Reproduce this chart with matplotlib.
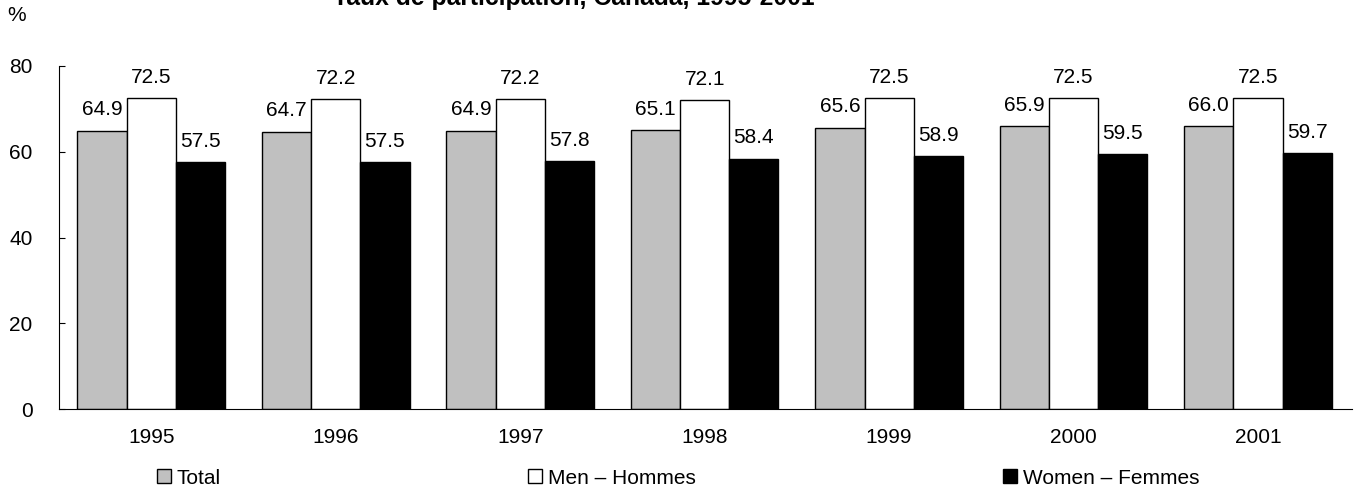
import numpy as np
import matplotlib.pyplot as plt

years = ['1995', '1996', '1997', '1998', '1999', '2000', '2001']
total = [64.9, 64.7, 64.9, 65.1, 65.6, 65.9, 66.0]
men = [72.5, 72.2, 72.2, 72.1, 72.5, 72.5, 72.5]
women = [57.5, 57.5, 57.8, 58.4, 58.9, 59.5, 59.7]
series_labels = ['Total', 'Men – Hommes', 'Women – Femmes']
series_colors = ['#c0c0c0', 'white', 'black']

plt.rcParams['font.family'] = ['Liberation Sans', 'DejaVu Sans']

fig = plt.figure(figsize=(13.54, 4.95), dpi=100)
ax = fig.add_axes([0.0436, 0.1737, 0.955, 0.693])

ind = np.arange(len(years))
width = 0.8 / 3
bars = []
for k, (vals, col) in enumerate(zip([total, men, women], series_colors)):
    xs = ind + (k - 1) * width
    b = ax.bar(xs, vals, width, color=col, edgecolor='black',
               linewidth=1.0, label=series_labels[k])
    bars.append(b)
    # value labels above each bar
    for x, v in zip(xs, vals):
        ax.annotate(f'{v:.1f}', (x, v), xytext=(0, 11), textcoords='offset points',
                    ha='center', va='baseline', fontsize=15)

ax.set_xlim(-0.5, len(years) - 0.49)
ax.set_ylim(0, 80)
ax.set_yticks(np.arange(0, 81, 20))
ax.set_xticks(ind, years)
ax.tick_params(axis='x', length=0, labelsize=15, pad=14)
ax.tick_params(axis='y', length=4.5, direction='in', labelsize=15, pad=19)
for s in ['top', 'right']:
    ax.spines[s].set_visible(False)

fig.text(0.005, 0.968, '%', fontsize=15, ha='left', va='center')
fig.text(0.424, 0.99, 'Taux de participation, Canada, 1995-2001', fontsize=17.8,
         fontweight='bold', ha='center', va='baseline')

fig.legend(handles=bars, loc='center left', bbox_to_anchor=(157 / 1354, 0.034),
           ncol=3, frameon=False, fontsize=15, borderpad=0, borderaxespad=0,
           handlelength=0.65, handleheight=0.65, handletextpad=0.3,
           columnspacing=14.75)

plt.savefig('out.png')
